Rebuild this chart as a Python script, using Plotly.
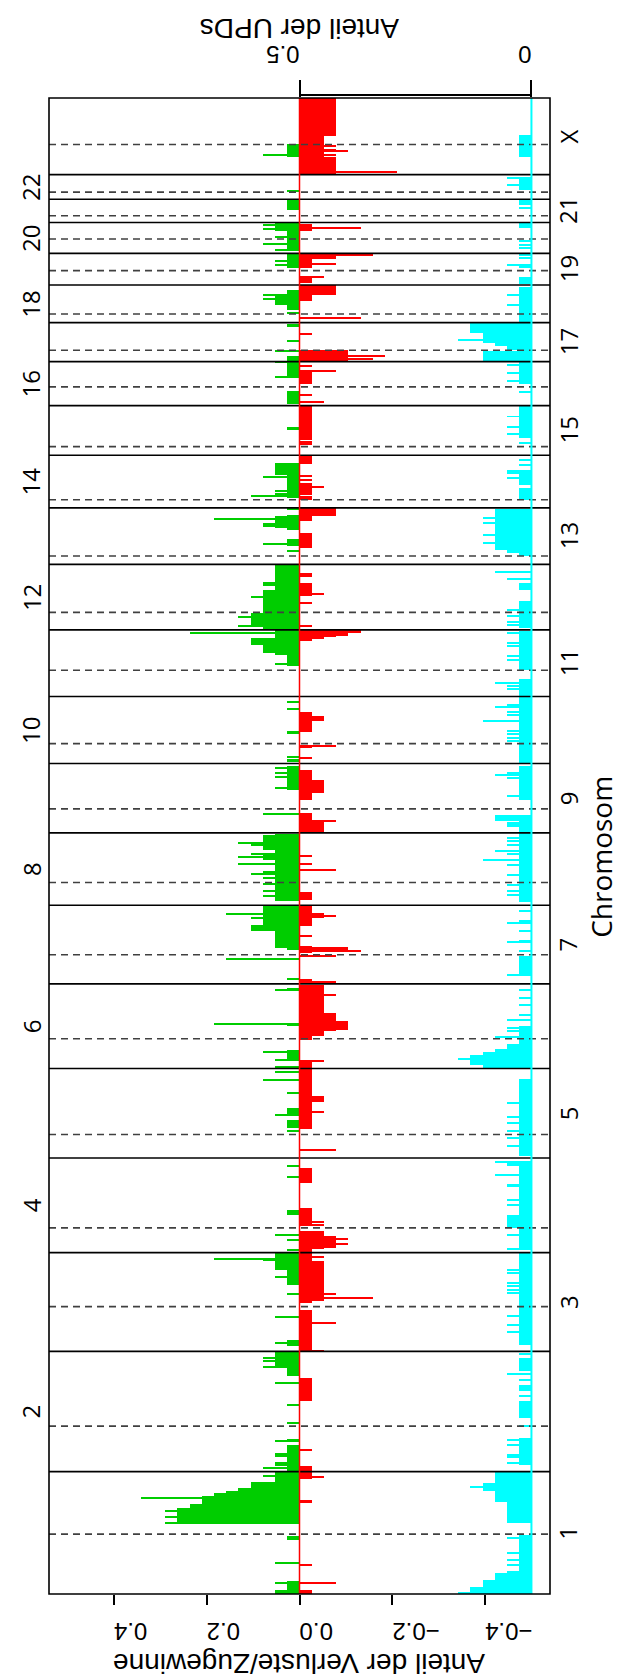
import numpy as np
import plotly.graph_objects as go

# ---------------- data ----------------
chrom_names = ['1', '2', '3', '4', '5', '6', '7', '8', '9', '10', '11', '12',
               '13', '14', '15', '16', '17', '18', '19', '20', '21', '22', 'X']
chrom_len_mb = [247.25, 242.95, 199.50, 191.27, 180.86, 170.90, 158.82, 146.27,
                140.27, 135.37, 134.45, 132.35, 114.14, 106.37, 100.34, 88.83,
                78.77, 76.12, 63.81, 62.44, 46.94, 49.69, 154.91]
centromere_mb = [121, 92, 90.5, 50, 47.5, 60, 59, 46, 48.5, 40, 52.8, 35.5,
                 17, 16.5, 17.5, 37.8, 23, 17.5, 29, 29, 13.5, 14.5, 61]
n_samples = 38

# gains (genome-wide Mb, number of samples)
gain_start = [0, 8.7, 108.4, 141.4, 173.7, 182.5, 197.3, 203.3, 208.7, 214.1, 226.2,
              247.2, 308.4, 439.7, 456.6,
              501.7, 625, 655.3,
              766.4,
              941.5, 965.1,
              1076.2, 1148, 1218,
              1300.5, 1305.2, 1338.9, 1352.3,
              1399.5, 1503.9, 1483.6, 1453.4,
              1625.1,
              1737.6,
              1874.2, 1897.8, 1901.1, 1918, 1931.4,
              1948.3, 1948.3, 1955, 1982,
              2116.6, 2149, 2153.7,
              2214.3, 2261.4,
              2351.7,
              2456.8, 2405,
              2491.8,
              2594.8, 2605, 2625,
              2679,
              2712.7, 2753.2,
              2796.9,
              2902.7]
gain_end = [8.7, 25.5, 116.4, 173.7, 182.5, 197.3, 203.3, 208.7, 214.1, 226.2, 247.2,
            301.7, 313.8, 456.6, 490.2,
            512.5, 655.3, 689.7,
            776.5,
            958.3, 981.9,
            1099.8, 1153, 1224,
            1305.2, 1338.9, 1352.3, 1389.4,
            1536.2, 1532.8, 1497.1, 1461.4,
            1672.2,
            1742.9,
            1897.8, 1901.1, 1918, 1931.4, 1947.9,
            2079.6, 1955, 1982, 2029.1,
            2131.5, 2180.6, 2178.6,
            2261.4, 2285,
            2357.1,
            2490.4, 2430,
            2500.5,
            2608.3, 2625, 2635,
            2709.4,
            2753.2, 2770,
            2817.1,
            2929.6]
gain_n = [2, 1, 1, 10, 9, 8, 7, 6, 5, 4, 2,
          1, 1, 1, 2,
          1, 1, 2,
          1,
          1, 1,
          1, 1, 1,
          1, 2, 4, 3,
          2, 3, 3, 3,
          1,
          1,
          1, 2, 3, 4, 2,
          2, 3, 4, 3,
          1, 1, 2,
          1, 2,
          1,
          1, 1,
          1,
          1, 2, 1,
          1,
          1, 2,
          1,
          1]
gain_spike_pos = [22.2, 62.6, 142.7, 154.8, 168.3, 193.9, 237.7,
                  254.5, 259.9, 264.6, 278.1, 283.5, 309.7, 345.4, 381.1, 425.6, 457.9, 471.4, 476.8,
                  507.1, 560.3, 606.8, 641.1, 675.5, 677.5,
                  695, 714.5, 726, 841.8, 865.4,
                  936.1, 968.4, 1012.2, 1037.8, 1054,
                  1064.1, 1079.6, 1094.4, 1152.3, 1221,
                  1243.2, 1283, 1365.8, 1374.6,
                  1520.7, 1517.3, 1512.6, 1495.1, 1488.4, 1474.9, 1454.7, 1446.6, 1434.5, 1421, 1409.6,
                  1575.9, 1668.9, 1658.8, 1650, 1628.5,
                  1682.3, 1685.7, 1690.4, 1788.7, 1802.1,
                  1879.6, 1941.5,
                  1955, 1973.2, 2013.6, 2039.2, 2042.6,
                  2107.9, 2122, 2157, 2162.4, 2171.9, 2192.1,
                  2217.7, 2222, 2229.1, 2256,
                  2458.1, 2489,
                  2564.5, 2561.2, 2532.2, 2510.6,
                  2588.1, 2617.1, 2623.8,
                  2692.5, 2685.8,
                  2716.1, 2728.2, 2741.7, 2758.5, 2766.6,
                  2835.3,
                  2908.1]
gain_spike_n = [2, 2, 11, 11, 11, 13, 3,
                3, 2, 2, 2, 2, 2, 1, 1, 2, 3, 3, 3,
                2, 2, 1, 2, 3, 7,
                1, 1, 2, 1, 1,
                1, 2, 1, 3, 2,
                2, 2, 3, 7, 2,
                1, 6, 4, 6,
                3, 5, 4, 4, 5, 5, 4, 3, 3, 3, 3,
                3, 2, 2, 2, 2,
                1, 1, 1, 1, 1,
                2, 9,
                5, 5, 4, 3, 3,
                1, 3, 3, 3, 7, 1,
                4, 2, 2, 3,
                2, 2,
                1, 1, 1, 2,
                1, 3, 3,
                2, 2,
                2, 3, 2, 3, 3,
                1,
                3]

# losses (genome-wide Mb, number of samples)
loss_start = [0, 55.8, 183.8, 232.3,
              247.2, 288.2, 390.6,
              490.2, 587.2, 591.3, 672.1,
              688.9, 697.7, 699, 742.8, 830.4,
              940.2, 993.4,
              1061.8, 1120, 1126.7, 1136.8, 1138.8,
              1233, 1295.1, 1301.8, 1349, 1365.8,
              1402.8,
              1539.6, 1539.6, 1604.9, 1618.4,
              1709.3, 1741.6, 1764.5,
              1924.7, 1931.4, 1934.8, 1937.5, 1941.5,
              2015.6,
              2113.3, 2167.2, 2177.3,
              2211, 2221, 2283.7,
              2322.1, 2332.2,
              2444.6,
              2491.8,
              2611.7, 2623.8,
              2648.8, 2679, 2697.9,
              2753.2,
              2867.7, 2902.7, 2945.1]
loss_end = [8.7, 60.6, 190.5, 247.2,
            257.9, 293.6, 436.4,
            574.4, 591.3, 672.1, 689.7,
            734.1, 732.7, 722.6, 779.9, 860.7,
            1061.8, 1006.8,
            1077, 1126.7, 1231.1, 1173.8, 1157,
            1243, 1308.5, 1306.5, 1391.5, 1375.9,
            1418.3,
            1578, 1564.5, 1665.5, 1645.3,
            1716, 1782, 1773.3,
            1931.4, 1934.8, 1937.5, 1941.5, 1947.9,
            2042.6,
            2143.6, 2177.3, 2194.4,
            2217.7, 2244.6, 2300.8,
            2328.8, 2401.1,
            2470.2,
            2512.7,
            2623.8, 2645.4,
            2662.2, 2697.9, 2709.4,
            2768,
            2902.7, 2945.1, 3022.6]
loss_n = [1, 1, 1, 1,
          1, 1, 1,
          1, 1, 2, 1,
          1, 2, 3, 1, 1,
          1, 2,
          1, 1, 2, 3, 4,
          1, 1, 4, 1, 2,
          1,
          1, 2, 1, 2,
          1, 1, 2,
          1, 2, 3, 4, 5,
          1,
          1, 1, 3,
          1, 1, 1,
          1, 1,
          1,
          4,
          1, 3,
          1, 1, 3,
          1,
          3, 2, 3]
loss_spike_pos = [21.5, 235.7,
                  491.6, 548.2, 598, 606.8, 681.5,
                  707.8, 717.9, 746.2, 751.6, 896.4,
                  973.1,
                  1077.5, 1210.9,
                  1236.5, 1288.3, 1299.8, 1330.1, 1370.5,
                  1462.1, 1475.6, 1491.7,
                  1562.5, 1689,
                  1714,
                  1955, 2002.2, 2021, 2056.1, 2061.4,
                  2236.5, 2251.4, 2258.1,
                  2408.3, 2423.1, 2470.2, 2480.3,
                  2495.2, 2500.5, 2546.3,
                  2578,
                  2660.2, 2687.8, 2706,
                  2759.9,
                  2872.4, 2908.1, 2914.8, 2918.2, 2925]
loss_spike_n = [3, 2,
                2, 3, 6, 3, 2,
                4, 4, 2, 2, 3,
                2,
                2, 3,
                3, 3, 5, 1, 3,
                3, 1, 1,
                3, 1,
                3,
                1, 1, 2, 1, 1,
                2, 1, 1,
                2, 1, 3, 1,
                6, 7, 1,
                5,
                2, 3, 6,
                5,
                8, 3, 4, 3, 3]

# UPDs (genome-wide Mb, number of samples)
upd_start = [0, 4, 13.4, 28.9, 42.4, 45.7, 143.4, 185.1, 207.4, 224.2,
             261.2, 355.5, 409.4, 449.8,
             502.4,
             699, 739.4, 864,
             884.2,
             1061.8, 1069.5, 1089.7, 1094.4, 1101.1, 1111.2,
             1250,
             1399,
             1539.6, 1561.1, 1604.9,
             1680,
             1813.5, 1867.5,
             1952, 2029.1,
             2097.8, 2103.2, 2109.9,
             2211, 2241.2,
             2335.6,
             2444.6,
             2491.8, 2510.6, 2514, 2520.8, 2527.5, 2547.7,
             2570,
             2647,
             2760,
             2807,
             2837.5,
             2902.7]
upd_end = [4, 13.4, 28.9, 42.4, 45.7, 119, 185.1, 207.4, 224.2, 247.2,
           315.1, 389.2, 422.9, 476.8,
           689.7,
           874.1, 766.4, 874.1,
           1041,
           1069.5, 1089.7, 1094.4, 1101.1, 1111.2, 1147,
           1290,
           1537,
           1574.6, 1574.6, 1672.2,
           1813.4,
           1849.3, 1946.3,
           2005.5, 2042.6,
           2103.2, 2109.9, 2192.1,
           2234.5, 2268.2,
           2401.5,
           2490.4,
           2510.6, 2514, 2520.8, 2527.5, 2547.7, 2567.9,
           2640,
           2660,
           2770,
           2817,
           2864,
           2948.5]
upd_n = [6, 5, 4, 3, 2, 1, 2, 3, 4, 3,
         1, 1, 1, 1,
         1,
         1, 2, 2,
         1,
         4, 5, 4, 3, 2, 1,
         1,
         1,
         1, 3, 1,
         1,
         1, 1,
         1, 1,
         1, 2, 3,
         1, 1,
         1,
         1,
         4, 1, 2, 3, 4, 5,
         1,
         1,
         1,
         1,
         1,
         1]
upd_spike_pos = [59.2, 69.3, 82.8, 113.1, 216.1,
                 264.6, 276.7, 281.5, 301.7, 310.4, 444.4, 340, 370, 400, 432, 485,
                 529.3, 544.1, 561, 608.1, 614.8, 621.6, 628.3, 648.5, 655.3,
                 697.7, 726, 749.5, 756.3, 785.2, 796.7, 823.6, 827, 847.2, 867.4, 845.9, 872.1,
                 904.5, 921.3, 934.8, 951.6, 963.7, 992,
                 1080.9, 1125.4, 1136.8, 1143.5, 1160.4, 1170, 1190, 1205, 1220,
                 1251.5, 1316.8, 1355.7, 1300, 1320, 1340, 1360, 1380,
                 1412.9, 1419.7, 1433.1, 1453.4, 1473.5, 1495.1, 1512.6, 1520.7, 1527, 1500.5, 1483.6,
                 1551, 1554.4, 1557.8, 1611.6, 1648.7, 1658.8, 1655.4,
                 1722.8, 1729.5, 1737.6, 1742.9, 1776.6, 1783, 1796.3, 1792, 1764.5,
                 1829, 1833.8, 1887.6, 1894.4, 1914.6, 1921.4, 1941.5, 1839.8,
                 1958.4, 1963.8, 1975.2, 1988.7, 2051.3, 2064.1,
                 2123.4, 2140.2, 2163.8, 2173.9,
                 2254.7, 2264.8, 2269.5, 2281, 2292,
                 2343.3, 2357.9, 2379.1, 2325.4,
                 2451.2, 2466.8, 2483.7, 2427.8,
                 2534.2,
                 2605, 2625,
                 2682, 2684.5, 2699, 2706,
                 2719, 2725, 2733,
                 2800,
                 2847.5, 2860.9]
upd_spike_n = [2, 2, 2, 2, 5,
               2, 2, 2, 2, 2, 2, 1, 1, 1, 1, 1,
               2, 2, 2, 2, 2, 2, 2, 2, 2,
               2, 2, 2, 2, 2, 2, 2, 2, 2, 2, 3, 3,
               2, 2, 2, 2, 2, 2,
               6, 3, 2, 2, 2, 1, 1, 1, 1,
               2, 2, 2, 1, 1, 1, 1, 1,
               2, 2, 2, 2, 2, 2, 2, 2, 2, 3, 4,
               2, 2, 2, 2, 2, 2, 3,
               2, 2, 2, 2, 2, 2, 2, 3, 4,
               2, 2, 2, 2, 2, 2, 2, 3,
               2, 2, 2, 2, 2, 3,
               4, 4, 4, 4,
               2, 2, 2, 1, 1,
               2, 2, 2, 1,
               2, 2, 2, 1,
               6,
               2, 2,
               1, 2, 1, 1,
               1, 1, 1,
               1,
               2, 2]

# ---------------- helpers ----------------
SPIKE_W = 2.0


def bars(starts, ends, counts, sp_pos, sp_counts):
    s = np.array(starts, float)
    e = np.array(ends, float)
    c = np.concatenate([(s + e) / 2, np.array(sp_pos, float)])
    w = np.concatenate([e - s, np.full(len(sp_pos), SPIKE_W)])
    v = np.concatenate([np.array(counts, float), np.array(sp_counts, float)]) / n_samples
    return c, w, v


GREEN = '#00CD00'
RED = '#FF0000'
CYAN = '#00FFFF'

fig = go.Figure()
for (st, en, cn, sp, sc, col, sign, ax) in [
        (gain_start, gain_end, gain_n, gain_spike_pos, gain_spike_n, GREEN, 1, 'x'),
        (loss_start, loss_end, loss_n, loss_spike_pos, loss_spike_n, RED, -1, 'x'),
        (upd_start, upd_end, upd_n, upd_spike_pos, upd_spike_n, CYAN, 1, 'x2')]:
    c, w, v = bars(st, en, cn, sp, sc)
    fig.add_trace(go.Bar(orientation='h', y=c, x=sign * v, width=w, base=0,
                         marker=dict(color=col, line=dict(width=0)),
                         xaxis=ax, yaxis='y', showlegend=False, hoverinfo='skip'))

cum = np.concatenate([[0], np.cumsum(chrom_len_mb)])
genome_len = cum[-1]
mids = (cum[:-1] + cum[1:]) / 2

shapes = []
# centromere dashed lines
for i, cpos in enumerate(centromere_mb):
    yv = cum[i] + cpos
    shapes.append(dict(type='line', xref='paper', yref='y', x0=0, x1=1, y0=yv, y1=yv,
                       line=dict(color='#404040', width=1.6, dash='7px,5px'), layer='above'))
# chromosome boundaries
for yv in cum[1:-1]:
    shapes.append(dict(type='line', xref='paper', yref='y', x0=0, x1=1, y0=yv, y1=yv,
                       line=dict(color='black', width=1.6), layer='above'))
# zero lines
shapes.append(dict(type='line', xref='x', yref='paper', x0=0, x1=0, y0=0, y1=1,
                   line=dict(color=RED, width=1.5), layer='above'))
shapes.append(dict(type='line', xref='x2', yref='paper', x0=0, x1=0, y0=0, y1=1,
                   line=dict(color=CYAN, width=2), layer='above'))
# UPD axis line
shapes.append(dict(type='line', xref='x2', yref='paper', x0=0, x1=0.5, y0=1.002, y1=1.002,
                   line=dict(color='black', width=2), layer='above'))
# box
shapes.append(dict(type='rect', xref='paper', yref='paper', x0=0, x1=1, y0=0, y1=1,
                   line=dict(color='black', width=1.6), layer='above'))

annotations = []
for i, name in enumerate(chrom_names):
    odd_side = (i % 2 == 0)
    annotations.append(dict(text=name, xref='paper', yref='y',
                            x=1.036 if odd_side else -0.036, y=mids[i],
                            xanchor='center', yanchor='middle', textangle=-90, showarrow=False,
                            font=dict(family='Open Sans', size=24, color='black')))
annotations.append(dict(text='Chromosom', xref='paper', yref='paper', x=1.1015, y=(1586 - 849) / 1496,
                        xanchor='center', yanchor='middle', textangle=-90, showarrow=False,
                        font=dict(family='Open Sans', size=28, color='black')))
annotations.append(dict(text='Anteil der Verluste/Zugewinne', xref='paper', yref='paper',
                        x=0.5, y=-(1656 - 1586) / 1496, xanchor='center', yanchor='middle',
                        textangle=180, showarrow=False,
                        font=dict(family='Liberation Sans', size=28, color='black')))
annotations.append(dict(text='Anteil der UPDs', xref='paper', yref='paper',
                        x=0.5, y=1 + (90 - 20) / 1496, xanchor='center', yanchor='middle',
                        textangle=180, showarrow=False,
                        font=dict(family='Liberation Sans', size=28, color='black')))

gl_ticks = [0.4, 0.2, 0.0, -0.2, -0.4]
gl_ticktext = ['0.4', '0.2', '0.0', '\u22120.2', '\u22120.4']
upd_ticks = [0, 0.5]
upd_ticktext = ['0', '0.5']

fig.update_layout(
    width=621, height=1676,
    margin=dict(l=41, r=79, t=90, b=90),
    paper_bgcolor='white', plot_bgcolor='white',
    barmode='overlay', bargap=0,
    showlegend=False,
    xaxis=dict(range=[0.54, -0.54], tickvals=gl_ticks, ticktext=gl_ticktext,
               ticks='outside', ticklen=10, tickwidth=1.5, tickcolor='black',
               tickangle=180, ticklabelstandoff=13, showgrid=False, zeroline=False, showline=False,
               tickfont=dict(family='Liberation Sans', size=24, color='black')),
    xaxis2=dict(range=[1.04, -0.04], overlaying='x', side='top', anchor='y',
                tickvals=upd_ticks, ticktext=upd_ticktext,
                ticks='outside', ticklen=17, tickwidth=1.5, tickcolor='black',
                tickangle=180, showgrid=False, zeroline=False, showline=False,
                tickfont=dict(family='Liberation Sans', size=24, color='black')),
    yaxis=dict(range=[0, genome_len], showticklabels=False, ticks='', showgrid=False,
               zeroline=False, showline=False),
    shapes=shapes, annotations=annotations,
    font=dict(family='Liberation Sans', color='black'),
)

fig.write_html('out.html')
